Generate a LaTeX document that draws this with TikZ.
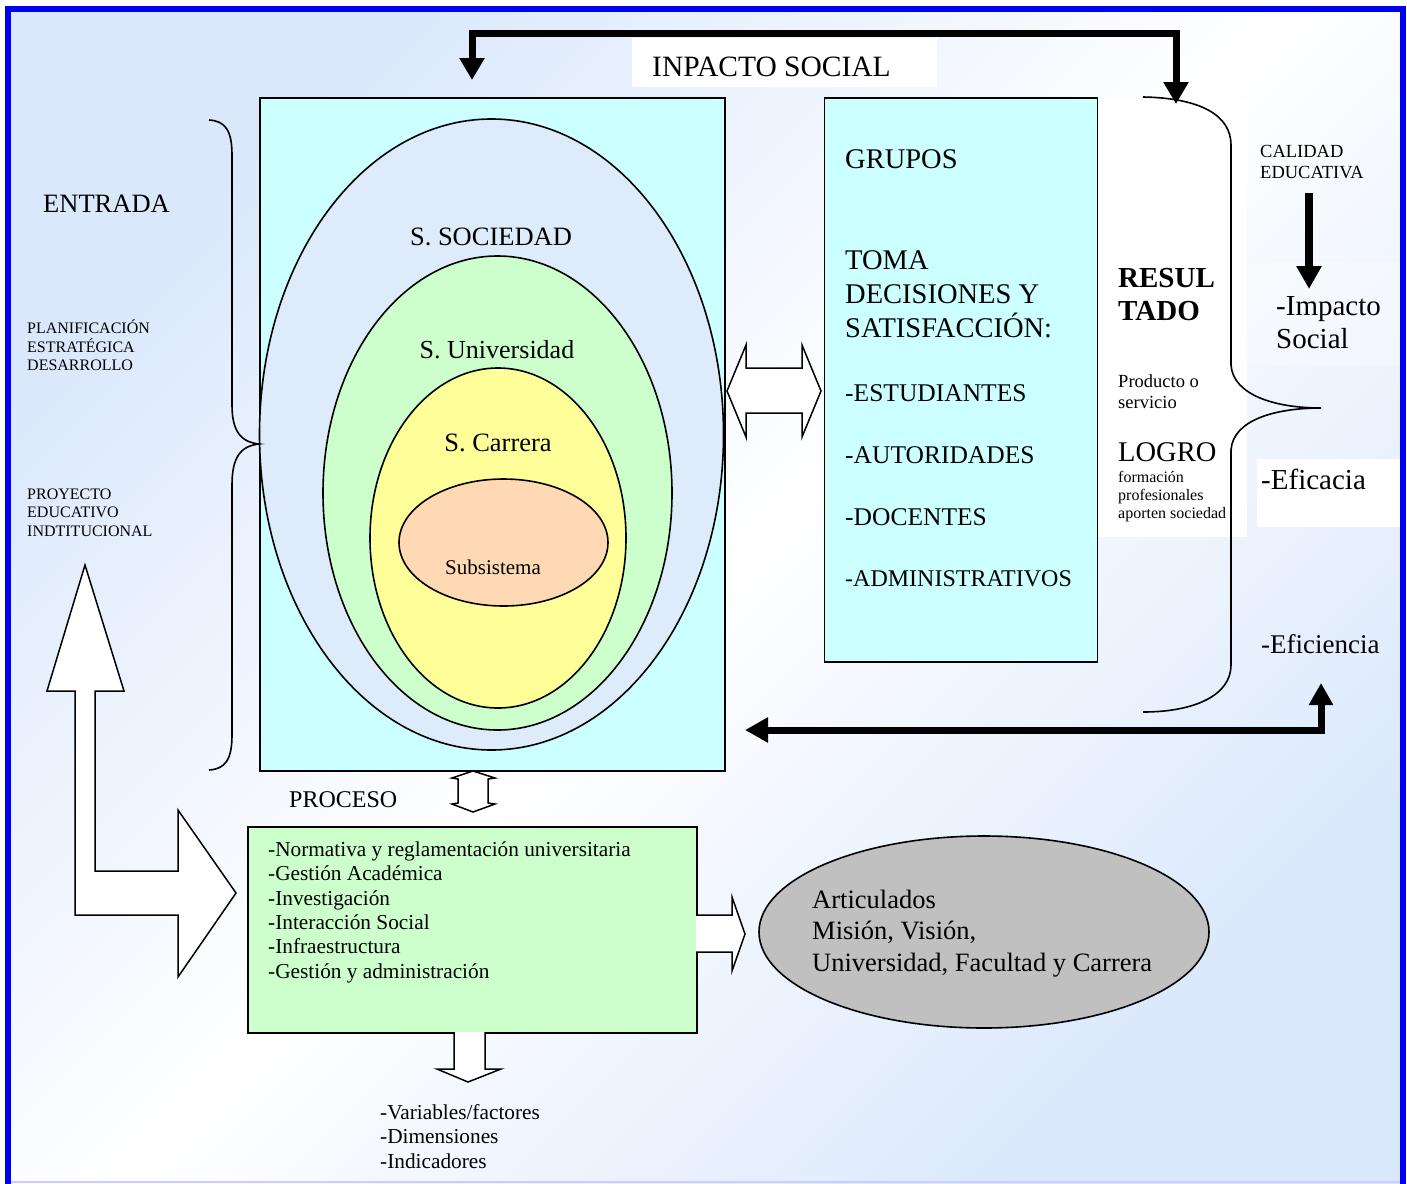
\documentclass[tikz,border=0pt]{standalone}
\usepackage{fontspec}
\setmainfont{Liberation Serif}
\usetikzlibrary{arrows.meta,shapes.geometric}
\definecolor{bgblue}{HTML}{DAE8FC}
\definecolor{boxcyan}{HTML}{CCFFFF}
\definecolor{socblue}{HTML}{DDEBFB}
\definecolor{unigreen}{HTML}{CCFFCC}
\definecolor{caryellow}{HTML}{FFFF99}
\definecolor{subpeach}{HTML}{FFD9B3}
\definecolor{grayell}{HTML}{C0C0C0}
\definecolor{frameblue}{HTML}{0000F0}
\definecolor{lavender}{HTML}{CCCCFF}
\newcommand{\fsz}[1]{\fontsize{#1}{#1}\selectfont}
\begin{document}
\begin{tikzpicture}[x=1pt,y=-1pt,
  txt/.style={inner sep=0pt, anchor=base west},
  ctxt/.style={inner sep=0pt, anchor=base},
  outl/.style={draw=black, line width=1.6pt},
  boxnode/.style={outl, inner sep=0pt, anchor=north west},
  ellnode/.style={ellipse, outl, inner sep=0pt},
  blockarrow/.style={draw=black, line width=1.5pt, fill=white, line join=miter},
  heavy/.style={line width=7pt, line join=miter, draw=black},
  bigtip/.tip={Triangle[width=24pt,length=22pt]}
]
\useasboundingbox (0,0) rectangle (1407,1183);
\clip (0,0) rectangle (1407,1183);
% background and frame
\fill[white] (0,0) rectangle (1407,1183);
\shade[top color=bgblue, bottom color=bgblue, middle color=white, shading angle=45] (8,9) rectangle (1403,1183);
\fill[lavender] (5,1180.5) rectangle (1400,1183);
\draw[frameblue, line width=6pt] (8,9) rectangle (1403,1210);

% white text backgrounds
\fill[white] (632,38) rectangle (937,87);
\fill[white] (1097,100) rectangle (1247,537);
\fill[white] (1257,459) rectangle (1400,527);
\fill[white,opacity=0.3] (1245,262) rectangle (1400,365);

% system box and nested ellipses
\node[boxnode, fill=boxcyan, minimum width=465pt, minimum height=673pt] (sys) at (259,97) {};
\node[ellnode, fill=socblue, minimum width=464pt, minimum height=631pt] (soc) at (491.5,434.5) {};
\node[ellnode, fill=unigreen, minimum width=349pt, minimum height=474pt] (uni) at (497.5,493) {};
\node[ellnode, fill=caryellow, minimum width=256pt, minimum height=340pt] (car) at (498,538) {};
\node[ellnode, fill=subpeach, minimum width=209pt, minimum height=127pt] (sub) at (503.5,542.5) {};
\node[ctxt, font=\fsz{26.5}] (lsoc) at (491,245) {S. SOCIEDAD};
\node[ctxt, font=\fsz{26}] (luni) at (497,358) {S. Universidad};
\node[ctxt, font=\fsz{26.5}] (lcar) at (498,451) {S. Carrera};
\node[ctxt, font=\fsz{21}] (lsub) at (493,574) {Subsistema};

% groups box
\node[boxnode, fill=boxcyan, minimum width=273pt, minimum height=564pt] (grp) at (823.5,97) {};
\node[txt, font=\fsz{28.5}] (g1) at (845,168) {GRUPOS};
\node[txt, font=\fsz{28.5}] (g2) at (845,269) {TOMA};
\node[txt, font=\fsz{28.5}] (g3) at (845,303) {DECISIONES Y};
\node[txt, font=\fsz{28.5}] (g4) at (845,337) {SATISFACCIÓN:};
\node[txt, font=\fsz{25.5}] (g5) at (845,401) {-ESTUDIANTES};
\node[txt, font=\fsz{25.5}] (g6) at (845,463) {-AUTORIDADES};
\node[txt, font=\fsz{25.5}] (g7) at (845,525) {-DOCENTES};
\node[txt, font=\fsz{24}] (g8) at (845,586) {-ADMINISTRATIVOS};

% process box
\node[boxnode, fill=unigreen, minimum width=449pt, minimum height=206pt] (proc) at (247,826) {};
\node[txt, font=\fsz{21.3}] (p1) at (268,856) {-Normativa y reglamentación universitaria};
\node[txt, font=\fsz{21.3}] (p2) at (268,880.5) {-Gestión Académica};
\node[txt, font=\fsz{21.3}] (p3) at (268,905) {-Investigación};
\node[txt, font=\fsz{21.3}] (p4) at (268,929) {-Interacción Social};
\node[txt, font=\fsz{21.3}] (p5) at (268,953.5) {-Infraestructura};
\node[txt, font=\fsz{21.3}] (p6) at (268,978) {-Gestión y administración};

% gray ellipse
\node[ellnode, fill=grayell, minimum width=450pt, minimum height=192pt] (art) at (984,932) {};
\node[txt, font=\fsz{26.5}] (a1) at (812,908) {Articulados};
\node[txt, font=\fsz{26.5}] (a2) at (812,939) {Misión, Visión,};
\node[txt, font=\fsz{26.5}] (a3) at (812,971) {Universidad, Facultad y Carrera};

% left texts
\node[txt, font=\fsz{26.5}] (entrada) at (43,212) {ENTRADA};
\node[txt, font=\fsz{16}] (pl1) at (27,333) {PLANIFICACIÓN};
\node[txt, font=\fsz{16}] (pl2) at (27,352) {ESTRATÉGICA};
\node[txt, font=\fsz{16}] (pl3) at (27,370) {DESARROLLO};
\node[txt, font=\fsz{16}] (pe1) at (27,499) {PROYECTO};
\node[txt, font=\fsz{16}] (pe2) at (27,517) {EDUCATIVO};
\node[txt, font=\fsz{16}] (pe3) at (27,536) {INDTITUCIONAL};
\node[txt, font=\fsz{24}] (proceso) at (289,807) {PROCESO};

% bottom outputs
\node[txt, font=\fsz{21.3}] (v1) at (380,1119) {-Variables/factores};
\node[txt, font=\fsz{21.3}] (v2) at (380,1143) {-Dimensiones};
\node[txt, font=\fsz{21.3}] (v3) at (380,1168) {-Indicadores};

% top label
\node[txt, font=\fsz{29.5}] (impacto) at (652,76) {INPACTO SOCIAL};

% result side texts
\node[txt, font=\bfseries\fsz{29}] (r1) at (1118,287) {RESUL};
\node[txt, font=\bfseries\fsz{29}] (r2) at (1118,320) {TADO};
\node[txt, font=\fsz{18.5}] (r3) at (1118,387) {Producto o};
\node[txt, font=\fsz{18.5}] (r4) at (1118,408) {servicio};
\node[txt, font=\fsz{28.5}] (r5) at (1118,461) {LOGRO};
\node[txt, font=\fsz{16}] (r6) at (1118,482) {formación};
\node[txt, font=\fsz{16}] (r7) at (1118,500) {profesionales};
\node[txt, font=\fsz{16}] (r8) at (1118,518) {aporten sociedad};
\node[txt, font=\fsz{18.5}] (c1) at (1260,157) {CALIDAD};
\node[txt, font=\fsz{18.5}] (c2) at (1260,178) {EDUCATIVA};
\node[txt, font=\fsz{29}] (c3) at (1276,315) {-Impacto};
\node[txt, font=\fsz{29}] (c4) at (1276,348) {Social};
\node[txt, font=\fsz{29}] (c5) at (1261,489) {-Eficacia};
\node[txt, font=\fsz{27}] (c6) at (1261,653) {-Eficiencia};

% braces
\draw[line width=1.6pt] (209,120) .. controls (225,121) and (232,130) .. (232,155)
  -- (232,405) .. controls (232,430) and (240,442) .. (259,444)
  .. controls (240,446) and (232,458) .. (232,485)
  -- (232,735) .. controls (232,760) and (225,769) .. (209,770);
\draw[line width=1.6pt] (1143,97) .. controls (1200,98) and (1231,115) .. (1231,145)
  -- (1231,365) .. controls (1233,395) and (1275,408) .. (1321,408)
  .. controls (1275,408) and (1233,420) .. (1231,450)
  -- (1231,665) .. controls (1231,695) and (1195,712) .. (1143,712);

% heavy arrows
\coordinate (impL) at (472,80);
\coordinate (impR) at (1176,104);
\coordinate (efL) at (745,730);
\coordinate (efR) at (1321,683);
\coordinate (calT) at (1309,193);
\coordinate (calB) at (1309,289);
\draw[heavy, bigtip-bigtip] (impL) -- (472,33) -- (1176,33) -- (impR);
\draw[heavy, {Triangle[width=24pt,length=23pt]}-{Triangle[width=23pt,length=22pt]}] (efL) -- (1321,730) -- (efR);
\draw[line width=8pt, -{Triangle[width=24pt,length=23pt]}] (calT) -- (calB);

% block arrows
\draw[blockarrow] (727,391) -- (746,345) -- (746,368) -- (802,368) -- (802,345) -- (821,391)
  -- (802,437) -- (802,413) -- (746,413) -- (746,437) -- cycle;
\draw[blockarrow] (473,771) -- (452,778) -- (458,779) -- (458,803) -- (452,804) -- (473,812)
  -- (495,804) -- (488,803) -- (488,779) -- (495,778) -- cycle;
\draw[blockarrow] (85,565) -- (124,691) -- (95,691) -- (95,871) -- (178,871) -- (178,810)
  -- (236,893) -- (178,977) -- (178,915) -- (75,915) -- (75,691) -- (47,691) -- cycle;
\draw[blockarrow] (696,915) -- (732,915) -- (732,897) -- (745,934) -- (732,971) -- (732,952) -- (696,952);
\draw[blockarrow] (454,1032) -- (454,1069) -- (437,1069) -- (468,1082) -- (501,1069) -- (485,1069) -- (485,1032);
\end{tikzpicture}
\end{document}
